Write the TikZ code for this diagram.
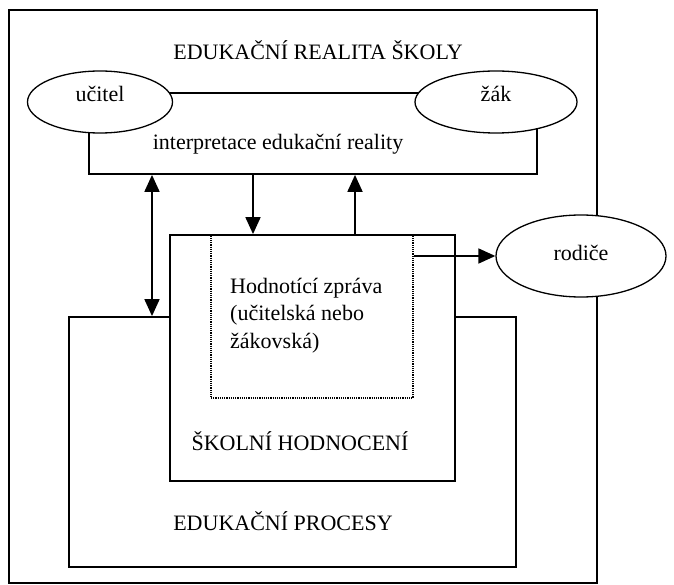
\documentclass[tikz,border=0pt]{standalone}
\usepackage{fontspec}
\setmainfont{Liberation Serif}
\usetikzlibrary{shapes.geometric,arrows.meta}
\begin{document}
\begin{tikzpicture}[x=1pt,y=-1pt, font=\fontsize{22}{27.5}\selectfont,
  frame/.style={draw, line width=1.8pt, inner sep=0pt},
  blob/.style={ellipse, draw, line width=1.3pt, fill=white, inner sep=0pt,
    text height=0.7em, text depth=0.7em},
  arr/.style={line width=1.8pt, -{Triangle[length=17pt,width=15pt]}},
  darr/.style={line width=1.8pt, {Triangle[length=17pt,width=15pt]}-{Triangle[length=17pt,width=15pt]}}]

\useasboundingbox (0,0) rectangle (674,585);

% ===== Outer frame: edukacni realita =====
\node[frame, minimum width=588, minimum height=573] (realita) at (303,296.5) {};
\node[anchor=base] (realitatext) at (318,60) {EDUKAČNÍ REALITA ŠKOLY};

% ===== Interpretation box, teacher and pupil =====
\node[frame, minimum width=448, minimum height=81] (interp) at (313,133.5) {};
\node[blob, minimum width=145, minimum height=62] (ucitel) at (100,102) {učitel};
\node[blob, minimum width=162, minimum height=62] (zak) at (496,102) {žák};
\node[anchor=base] (interptext) at (278,150) {interpretace edukační reality};

% ===== Edukacni procesy and skolni hodnoceni =====
\node[frame, minimum width=447, minimum height=250] (procesy) at (292.5,442) {};
\node[frame, fill=white, minimum width=285, minimum height=246] (hodnoceni) at (312.5,358) {};
\node[draw, line width=1.2pt, densely dotted, inner sep=0pt,
  minimum width=202, minimum height=163] (zprava) at (312,316.5) {};
\node[anchor=north west, inner sep=0pt, align=left] (zpravatext) at (230,278)
  {Hodnotící zpráva\\(učitelská nebo\\žákovská)};
\node[anchor=base] (hodnocenitext) at (300,450) {ŠKOLNÍ HODNOCENÍ};
\node[anchor=base] (procesytext) at (283,530) {EDUKAČNÍ PROCESY};

% ===== Parents =====
\node[blob, minimum width=170, minimum height=82, text depth=0.3em, text height=1.1em]
  (rodice) at (581,256) {rodiče};

% ===== Arrows =====
\coordinate (c1) at (152,0);
\coordinate (c2) at (253,0);
\coordinate (c3) at (355,0);
\draw[darr] (interp.south -| c1) -- (procesy.north -| c1);
\draw[arr] (interp.south -| c2) -- (hodnoceni.north -| c2);
\draw[arr] (hodnoceni.north -| c3) -- (interp.south -| c3);
\draw[arr] (zprava.east |- rodice.west) -- (rodice.west);

\end{tikzpicture}
\end{document}
